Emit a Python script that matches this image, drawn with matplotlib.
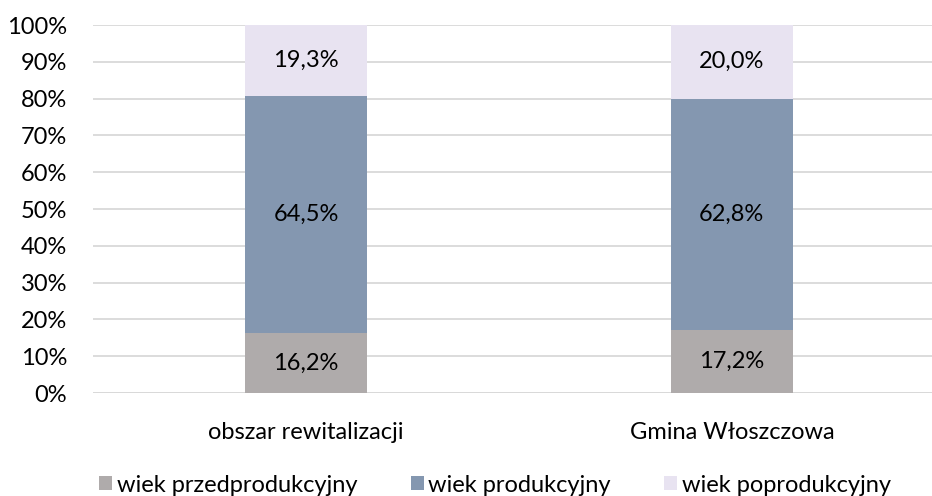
import numpy as np
import matplotlib.pyplot as plt

categories = ["obszar rewitalizacji", "Gmina Włoszczowa"]
series_names = ["wiek przedprodukcyjny", "wiek produkcyjny", "wiek poprodukcyjny"]
pre = [16.2, 17.2]
prod = [64.5, 62.8]
post = [19.3, 20.0]
colors = ["#AFABAB", "#8497B0", "#E8E3F1"]

plt.rcParams['font.family'] = ['Lato', 'DejaVu Sans']
FS = 17

fig = plt.figure(figsize=(9.32, 4.96), dpi=100)
ax = fig.add_axes([93/932, 1-393/496, 1-93/932, (393-25)/496])

x = np.arange(len(categories))
bottom = np.zeros(len(categories))
for name, vals, col in zip(series_names, [pre, prod, post], colors):
    ax.bar(x, vals, 0.286, bottom=bottom, color=col, label=name, zorder=2)
    for xi, b, v in zip(x, bottom, vals):
        ax.text(xi, b + v/2, f"{v:.1f}%".replace(".", ","), ha="center", va="center",
                fontsize=FS, color="#000000", zorder=3)
    bottom = bottom + np.array(vals)

ax.set_xlim(-0.5, 1.47)
ax.set_ylim(0, 100)
ax.set_yticks(np.arange(0, 101, 10))
ax.set_yticklabels([f"{t}%" for t in range(0, 101, 10)], fontsize=FS)
ax.set_xticks(x)
ax.set_xticklabels(categories, fontsize=FS)
ax.tick_params(axis="both", length=0)
ax.tick_params(axis="y", pad=18.5)
ax.tick_params(axis="x", pad=21)
ax.yaxis.grid(True, color="#D9D9D9", linewidth=1.3, zorder=0)
for s in ax.spines.values():
    s.set_visible(False)
ax.axhline(0, color="#D9D9D9", linewidth=1.3, zorder=1)

fig.legend(loc="lower center", bbox_to_anchor=(0.531, -0.042), ncol=3, frameon=False,
           fontsize=FS, handlelength=0.55, handleheight=0.55, handletextpad=0.2,
           columnspacing=2.25)

fig.savefig("out.png", dpi=100)
